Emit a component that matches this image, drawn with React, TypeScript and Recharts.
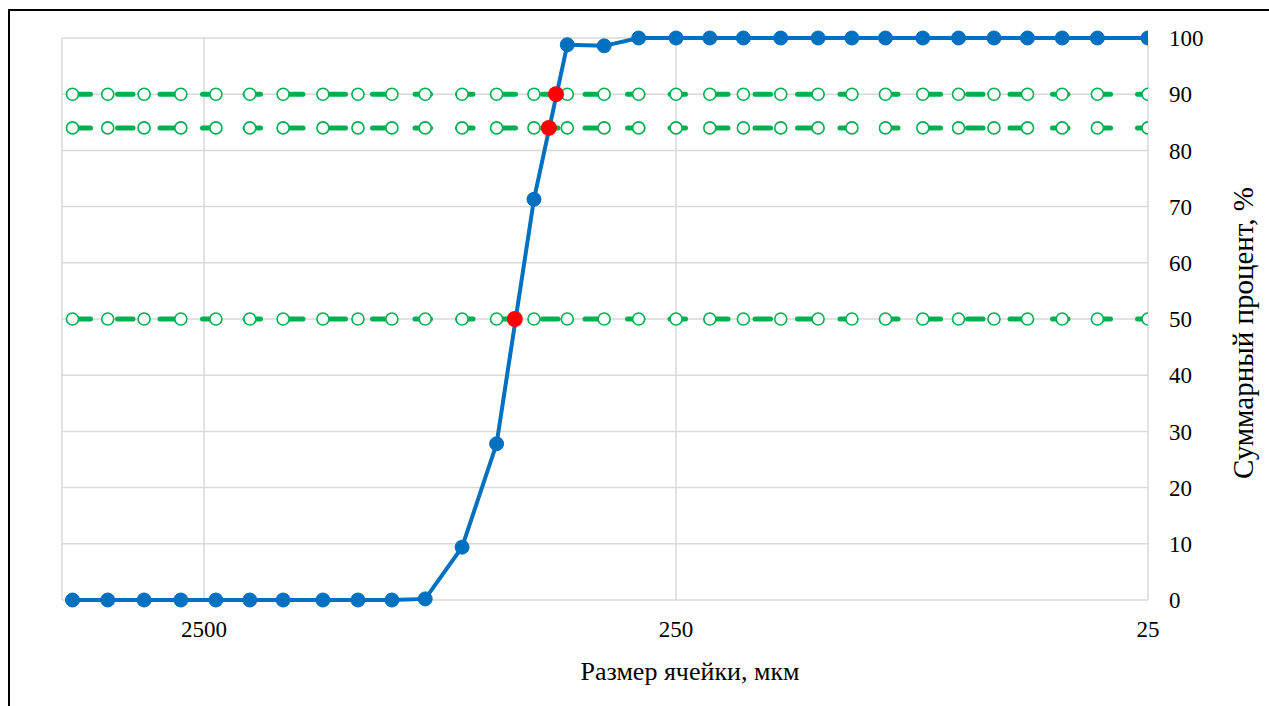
import React from 'react';
import { ComposedChart, Line, Scatter, XAxis, YAxis, CartesianGrid, Label } from 'recharts';

// sieve openings, um (left to right on a reversed log axis)
const sizes = [4750, 4000, 3350, 2800, 2360, 2000, 1700, 1400, 1180, 1000, 850, 710, 600, 500, 425, 355, 300, 250, 212, 180, 150, 125, 106, 90, 75, 63, 53, 45, 38, 32, 25];
// cumulative passing, %
const cumulative = [0, 0, 0, 0, 0, 0, 0, 0, 0, 0, 0.2, 9.4, 27.8, 71.3, 98.8, 98.6, 100, 100, 100, 100, 100, 100, 100, 100, 100, 100, 100, 100, 100, 100, 100];
// reference levels (d50, d84, d90)
const levels = [50, 84, 90];
// read-off sizes where the curve crosses each level
const crossSizes = [549, 465, 449];

const xTicks = [25, 250, 2500];
const yTicks = [0, 10, 20, 30, 40, 50, 60, 70, 80, 90, 100];

const rows = sizes.map((s, i) => {
  const row: Record<string, number> = { size: s, cum: cumulative[i] };
  levels.forEach(l => { row['l' + l] = l; });
  return row;
});
const crossPoints = levels.map((l, i) => ({ size: crossSizes[i], pct: l }));

const FONT = 'Liberation Serif';
const BLUE = '#0070C0';
const GREEN = '#00B050';
const tickStyle = { fontFamily: FONT, fontSize: 23, fill: '#000' };

const XTitle = (props: any) => {
  const vb = props.viewBox;
  return (
    <text x={vb.x + vb.width / 2 + 85} y={vb.y + 80} textAnchor="middle" fontFamily={FONT} fontSize={26} fill="#000">
      Размер ячейки, мкм
    </text>
  );
};

const YTitle = (props: any) => {
  const vb = props.viewBox;
  const cx = vb.x + 105;
  const cy = vb.y + vb.height / 2 + 14;
  return (
    <text transform={`translate(${cx},${cy}) rotate(-90)`} textAnchor="middle" fontFamily={FONT} fontSize={29} fill="#000">
      Суммарный процент, %
    </text>
  );
};

const RedDot = (p: any) => <circle cx={p.cx} cy={p.cy} r={8} fill="#FF0000" />;

export default function App() {
  return (
    <div>
      <div style={{ position: 'absolute', left: 8, top: 9, right: 0, height: 706, borderTop: '2px solid #000', borderLeft: '2px solid #000' }} />
      <div style={{ position: 'absolute', left: 0, top: 0 }}>
        <ComposedChart width={1269} height={706} data={rows} margin={{ top: 38, left: 62, right: 0, bottom: 0 }}>
          <CartesianGrid stroke="#d9d9d9" strokeWidth={1.5} />
          <XAxis
            dataKey="size"
            type="number"
            scale="log"
            domain={[25, 5000]}
            allowDataOverflow
            reversed
            ticks={xTicks}
            interval={0}
            height={106}
            tickSize={0}
            tickMargin={21}
            axisLine={false}
            tickLine={false}
            tick={tickStyle}
          >
            <Label content={XTitle} />
          </XAxis>
          <YAxis
            orientation="right"
            type="number"
            domain={[0, 100]}
            ticks={yTicks}
            interval={0}
            width={121}
            tickSize={0}
            tickMargin={21}
            axisLine={false}
            tickLine={false}
            tick={tickStyle}
          >
            <Label content={YTitle} />
          </YAxis>
          {levels.map(l => (
            <Line
              key={l}
              dataKey={'l' + l}
              stroke={GREEN}
              strokeWidth={5}
              strokeDasharray="15.5 27"
              strokeDashoffset={-2.5}
              strokeLinecap="round"
              dot={{ r: 6, fill: '#fff', stroke: GREEN, strokeWidth: 1.6, strokeDasharray: '0' }}
              activeDot={false}
              isAnimationActive={false}
            />
          ))}
          <Line
            dataKey="cum"
            stroke={BLUE}
            strokeWidth={4}
            dot={{ r: 7, fill: BLUE, stroke: BLUE, strokeWidth: 1 }}
            activeDot={false}
            isAnimationActive={false}
          />
          <Scatter data={crossPoints} dataKey="pct" shape={RedDot} isAnimationActive={false} />
        </ComposedChart>
      </div>
    </div>
  );
}
